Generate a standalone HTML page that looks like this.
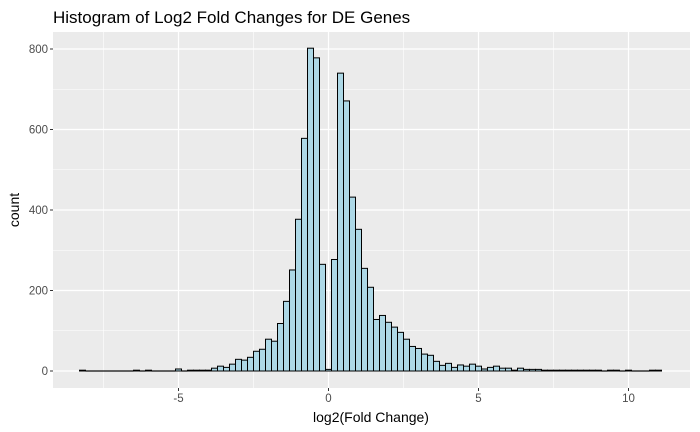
<!DOCTYPE html>
<html><head><meta charset="utf-8"><style>
body{margin:0;background:#fff;}
svg{display:block;font-family:"Liberation Sans",Arial,sans-serif;}
</style></head><body>
<svg id="chart" width="700" height="432" xmlns="http://www.w3.org/2000/svg">
<text x="53" y="23" font-size="17" fill="#000">Histogram of Log2 Fold Changes for DE Genes</text>
<rect x="53" y="32" width="637" height="356" fill="#EBEBEB"/>
<g id="grid"></g>
<g id="bars"></g>
<g id="axes"></g>
<text x="371" y="422" font-size="14" text-anchor="middle" fill="#000">log2(Fold Change)</text>
<text transform="translate(19,210) rotate(-90)" font-size="14" text-anchor="middle" fill="#000">count</text>
</svg>
<script>
const binStart = -41;
const binWidth = 0.2;
const counts = [2,0,0,0,0,0,0,0,0,2,0,2,0,0,0,0,5,0,2,2,2,2,
7,12,9,17,29,27,34,49,54,79,74,118,173,251,377,578,802,778,265,
4,277,740,671,432,352,255,208,128,138,121,109,96,79,61,56,42,39,24,14,19,9,
15,12,17,12,5,9,12,7,7,2,7,4,4,4,2,2,2,2,2,2,2,2,2,2,0,2,2,0,2,0,0,0,2,2];
const xTicks = [-5,0,5,10];
const yTicks = [0,200,400,600,800];
const yMinor = [100,300,500,700];
const xMinor = [-7.5,-2.5,2.5,7.5];

const NS="http://www.w3.org/2000/svg";
const px = v => 328.5 + 30*v;
const py = c => 371 - c*0.4025;
const L=53,R=690,T=32,B=388;
function mk(t,a,p){const e=document.createElementNS(NS,t);for(const k in a)e.setAttribute(k,a[k]);p.appendChild(e);return e;}
const grid=document.getElementById('grid'),bars=document.getElementById('bars'),axes=document.getElementById('axes');
yMinor.forEach(v=>{const e=mk('line',{x1:L,x2:R,y1:py(v),y2:py(v),stroke:'#fff','stroke-width':0.6},grid);

});
xMinor.forEach(v=>{const e=mk('line',{x1:px(v),x2:px(v),y1:T,y2:B,stroke:'#fff','stroke-width':0.6},grid);

});
yTicks.forEach(v=>{const e=mk('line',{x1:L,x2:R,y1:py(v),y2:py(v),stroke:'#fff','stroke-width':1.2},grid);


const t=mk('line',{x1:L-3,x2:L,y1:py(v),y2:py(v),stroke:'#333','stroke-width':1},axes);


const l=mk('text',{x:L-5,y:py(v)+4,'font-size':11.5,'text-anchor':'end',fill:'#4D4D4D'},axes);l.textContent=v;

});
xTicks.forEach(v=>{const e=mk('line',{x1:px(v),x2:px(v),y1:T,y2:B,stroke:'#fff','stroke-width':1.2},grid);


const t=mk('line',{x1:px(v),x2:px(v),y1:B,y2:B+3,stroke:'#333','stroke-width':1},axes);


const l=mk('text',{x:px(v),y:B+14,'font-size':11.5,'text-anchor':'middle',fill:'#4D4D4D'},axes);l.textContent=v;

});
counts.forEach((c,i)=>{const ctr=(binStart+i)*binWidth;const x0=px(ctr-binWidth/2),x1=px(ctr+binWidth/2);
if(c===0){
const z=mk('line',{x1:x0,x2:x1,y1:py(0),y2:py(0),stroke:'#000','stroke-width':1.2},bars);


return;}
const r=mk('rect',{x:x0,y:py(c),width:x1-x0,height:py(0)-py(c),fill:'#ADD8E6',stroke:'#000','stroke-width':1},bars);

});
</script>
</body></html>
